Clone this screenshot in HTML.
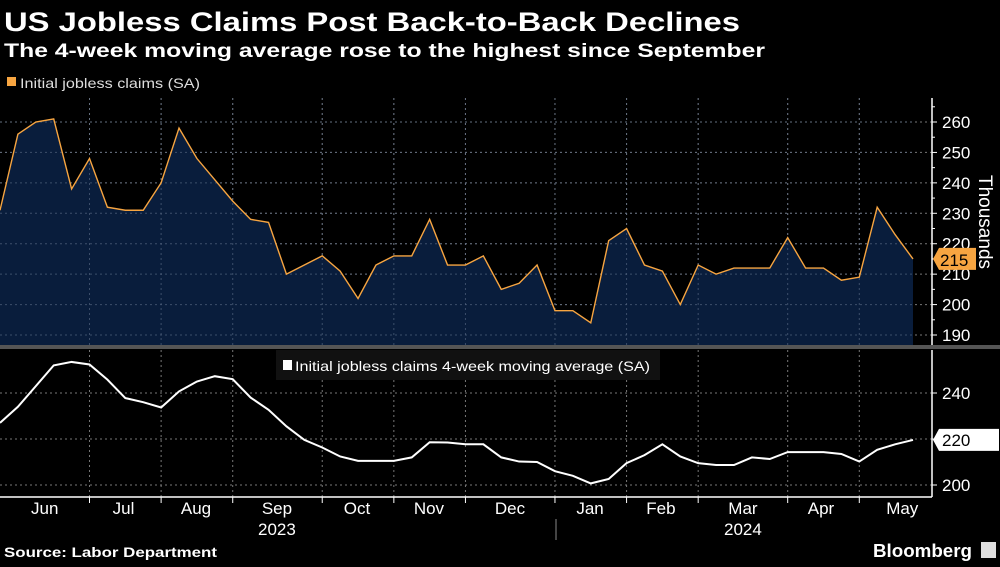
<!DOCTYPE html>
<html><head><meta charset="utf-8"><style>
body{margin:0;background:#000;width:1000px;height:562px;overflow:hidden;font-family:"Liberation Sans",sans-serif;color:#fff}
svg text{font-family:"Liberation Sans",sans-serif}
</style></head><body>
<svg id="c" width="1000" height="562" xmlns="http://www.w3.org/2000/svg">
<text x="4" y="31" font-size="27" font-weight="bold" fill="#fff" textLength="736" lengthAdjust="spacingAndGlyphs">US Jobless Claims Post Back-to-Back Declines</text>
<text x="4" y="57" font-size="19" font-weight="bold" fill="#fff" textLength="761" lengthAdjust="spacingAndGlyphs">The 4-week moving average rose to the highest since September</text>
<rect x="7" y="77" width="9" height="9" fill="#f7a541"/>
<text x="20" y="88" font-size="14" fill="#ddd" textLength="180" lengthAdjust="spacingAndGlyphs">Initial jobless claims (SA)</text>
<g id="g"></g>
<text x="4" y="557" font-size="14" font-weight="bold" fill="#fff" textLength="213" lengthAdjust="spacingAndGlyphs">Source: Labor Department</text>
<text x="873" y="557" font-size="18" font-weight="bold" fill="#fff" textLength="99" lengthAdjust="spacingAndGlyphs">Bloomberg</text>
<rect x="981" y="542" width="15" height="16" fill="#ddd"/>
</svg>
<script>
const claims=[231,256,260,261,238,248,232,231,231,240,258,248,241,234,228,227,210,213,216,211,202,213,216,216,228,213,213,216,205,207,213,198,198,194,221,225,213,211,200,213,210,212,212,212,222,212,212,208,209,232,223,215];
const movingAvg=[227,234,243,252,253.5,252.4,245.8,237.8,236,233.7,240.7,245,247.3,246,238,232.7,225.5,219.6,216.3,212.4,210.5,210.5,210.5,212,218.6,218.5,217.7,217.7,212,210.2,210,206,204,200.7,202.6,209.5,213,217.7,212.4,209.5,208.7,208.7,212,211.3,214.3,214.3,214.3,213.5,210.2,215.3,217.7,219.6];
const topTicks=[190,200,210,220,230,240,250,260];
const minorTicks=[185,195,205,215,225,235,245,255,265];
const botTicks=[200,220,240];
const months=["Jun","Jul","Aug","Sep","Oct","Nov","Dec","Jan","Feb","Mar","Apr","May"];
const monthIdx=[2.5,6.9,10.95,15.47,19.94,23.96,28.49,32.96,36.92,41.5,45.86,50.4];
const boundIdx=[5,9,13,18,22,26,31,35,39,44,48];
const years=["2023","2024"];
const yearIdx=[15.47,41.5];
const NS="http://www.w3.org/2000/svg",g=document.getElementById('g');
function el(t,a,txt){const e=document.createElementNS(NS,t);for(const k in a)e.setAttribute(k,a[k]);if(txt!=null)e.textContent=txt;g.appendChild(e);return e;}
const X=i=>i*913/(claims.length-1);
const YT=v=>122+(260-v)*3.043;
const YB=v=>485-(v-200)*2.3;
topTicks.forEach(v=>{const l=el('line',{x1:0,x2:932,y1:YT(v),y2:YT(v),stroke:'#777','stroke-dasharray':'2,3','stroke-width':1});


const t=el('text',{x:942,y:YT(v)+6,'font-size':17,fill:'#fff'},v);


el('line',{x1:932,x2:937,y1:YT(v),y2:YT(v),stroke:'#fff'});});
minorTicks.forEach(v=>{if(YT(v)>98&&YT(v)<345)el('line',{x1:932,x2:935,y1:YT(v),y2:YT(v),stroke:'#fff'});});
[260].concat(botTicks).forEach(v=>{const l=el('line',{x1:0,x2:932,y1:YB(v),y2:YB(v),stroke:'#777','stroke-dasharray':'2,3'});

});
botTicks.forEach(v=>{const t=el('text',{x:942,y:YB(v)+6,'font-size':17,fill:'#fff'},v);


el('line',{x1:932,x2:937,y1:YB(v),y2:YB(v),stroke:'#fff'});});
boundIdx.forEach(i=>{const l=el('line',{x1:X(i),x2:X(i),y1:98,y2:345,stroke:'#777','stroke-dasharray':'2,3'});


const l2=el('line',{x1:X(i),x2:X(i),y1:350,y2:497,stroke:'#777','stroke-dasharray':'2,3'});


el('line',{x1:X(i),x2:X(i),y1:497,y2:503,stroke:'#fff'});});
let d='M0,345 '+claims.map((v,i)=>'L'+X(i)+','+YT(v)).join(' ')+' L'+X(claims.length-1)+',345Z';
const a=el('path',{d:d,fill:'#0a1f3f','fill-opacity':0.95});


topTicks.forEach(v=>el('line',{x1:0,x2:913,y1:YT(v),y2:YT(v),stroke:'#5a6a85','stroke-dasharray':'2,3','stroke-opacity':0.6}));
boundIdx.forEach(i=>el('line',{x1:X(i),x2:X(i),y1:98,y2:345,stroke:'#5a6a85','stroke-dasharray':'2,3','stroke-opacity':0.6}));
const ln=el('polyline',{points:claims.map((v,i)=>X(i)+','+YT(v)).join(' '),fill:'none',stroke:'#f7a541','stroke-width':1.4});


el('line',{x1:932,x2:932,y1:98,y2:345,stroke:'#fff','stroke-width':1.5});
el('line',{x1:932,x2:932,y1:350,y2:497,stroke:'#fff','stroke-width':1.5});
el('rect',{x:0,y:345,width:1000,height:4,fill:'#555'});
el('line',{x1:0,x2:932,y1:497,y2:497,stroke:'#fff','stroke-width':1.5});
const th=el('text',{x:0,y:0,'font-size':19,fill:'#fff',transform:'translate(979,222) rotate(90)','text-anchor':'middle'},'Thousands');


const lv=claims[claims.length-1];
const lb=el('path',{d:`M933,${YT(lv)} l6,-11 h37 v22 h-37z`,fill:'#f7a541'});


el('text',{x:940,y:YT(lv)+7,'font-size':17,fill:'#000'},lv);
const ma=movingAvg[movingAvg.length-1];
const mb=el('path',{d:`M933,${YB(ma)} l6,-11 h60 v22 h-60z`,fill:'#fff'});


el('text',{x:942,y:YB(ma)+6,'font-size':17,fill:'#000'},'220');
el('rect',{x:276,y:350,width:384,height:30,fill:'#111'});
const ls=el('rect',{x:283,y:360,width:9,height:10,fill:'#fff'});


const lt=el('text',{x:295,y:371,'font-size':14,fill:'#fff',textLength:355,lengthAdjust:'spacingAndGlyphs'},'Initial jobless claims 4-week moving average (SA)');


const ml=el('polyline',{points:movingAvg.map((v,i)=>X(i)+','+YB(v)).join(' '),fill:'none',stroke:'#fff','stroke-width':2});


months.forEach((m,k)=>{const t=el('text',{x:X(monthIdx[k]),y:514,'font-size':17,fill:'#fff','text-anchor':'middle'},m);

});
years.forEach((y,k)=>{const t=el('text',{x:X(yearIdx[k]),y:535,'font-size':17,fill:'#fff','text-anchor':'middle'},y);

});
el('line',{x1:556,x2:556,y1:519,y2:540,stroke:'#888'});
</script>
</body></html>
